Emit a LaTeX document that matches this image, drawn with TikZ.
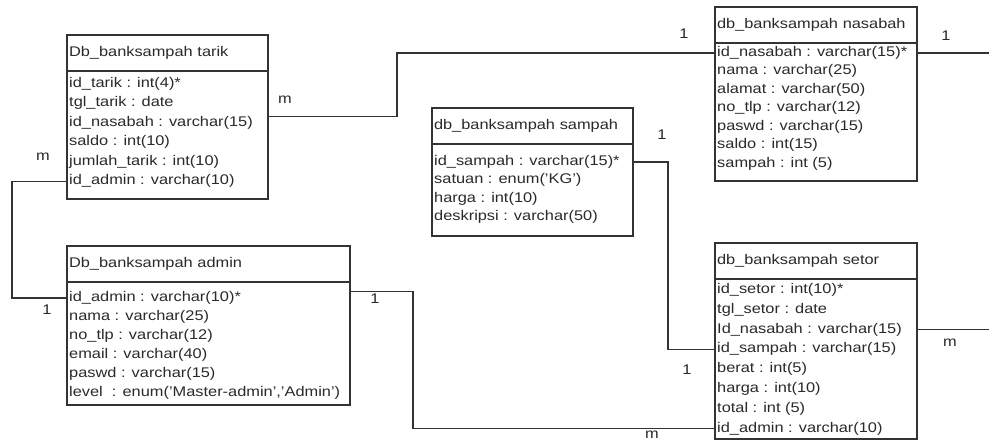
\documentclass[tikz,border=0pt]{standalone}
\usepackage{fontspec}
\setmainfont[FakeStretch=1.17]{Liberation Sans}
\usetikzlibrary{positioning}
\definecolor{garis}{HTML}{333333}
\definecolor{tulisan}{HTML}{2A2A2A}
\tikzset{
  judul/.style={draw=garis,line width=1.3pt,fill=white,anchor=north west,outer sep=0pt,
    minimum height=36pt,inner xsep=2pt,text width=#1pt,align=left,text=tulisan,
    font=\fontsize{14}{16}\selectfont},
  isi/.style={draw=garis,line width=1.3pt,fill=white,outer sep=0pt,inner sep=0pt},
  baris/.style={anchor=west,inner sep=0pt,text height=10pt,text depth=3pt,text=tulisan,
    font=\fontsize{14}{16}\selectfont},
  kardinal/.style={inner sep=0pt,text=tulisan,font=\fontsize{14}{16}\selectfont},
  hubung/.style={draw=garis,line width=1.3pt}
}
\begin{document}
\begin{tikzpicture}[x=1pt,y=-1pt]
\useasboundingbox[fill=white] (0,0) rectangle (989,441);

% tabel tarik
\node[judul=197] (tarikH) at (67,35) {Db\_banksampah tarik};
\node[isi,minimum width=201pt,minimum height=128pt,below=0pt of tarikH] (tarik) {};
\foreach \t [count=\i] in {id\_tarik : int(4)*, tgl\_tarik : date, id\_nasabah : varchar(15),
  saldo : int(10), jumlah\_tarik : int(10), id\_admin : varchar(10)}
  \node[baris] (tarik\i) at ([xshift=2pt,yshift=-13pt-(\i-1)*19.5pt]tarik.north west) {\t};

% tabel admin
\node[judul=279] (adminH) at (67,246) {Db\_banksampah admin};
\node[isi,minimum width=283pt,minimum height=123pt,below=0pt of adminH] (admin) {};
\foreach \t [count=\i] in {id\_admin : varchar(10)*, nama : varchar(25), no\_tlp : varchar(12),
  email : varchar(40), paswd : varchar(15), {level\ \ : enum('Master-admin','Admin')}}
  \node[baris] (admin\i) at ([xshift=2pt,yshift=-16pt-(\i-1)*19pt]admin.north west) {\t};

% tabel nasabah
\node[judul=198] (nasabahH) at (715,7) {db\_banksampah nasabah};
\node[isi,minimum width=202pt,minimum height=138pt,below=0pt of nasabahH] (nasabah) {};
\foreach \t [count=\i] in {id\_nasabah : varchar(15)*, nama : varchar(25), alamat : varchar(50),
  no\_tlp : varchar(12), paswd : varchar(15), saldo : int(15), sampah : int (5)}
  \node[baris] (nasabah\i) at ([xshift=2pt,yshift=-10pt-(\i-1)*18.5pt]nasabah.north west) {\t};

% tabel sampah
\node[judul=197] (sampahH) at (432,108) {db\_banksampah sampah};
\node[isi,minimum width=201pt,minimum height=92pt,below=0pt of sampahH] (sampah) {};
\foreach \t [count=\i] in {id\_sampah : varchar(15)*, satuan : enum('KG'), harga : int(10),
  deskripsi : varchar(50)}
  \node[baris] (sampah\i) at ([xshift=2pt,yshift=-18pt-(\i-1)*18.3pt]sampah.north west) {\t};

% tabel setor
\node[judul=198] (setorH) at (715,243) {db\_banksampah setor};
\node[isi,minimum width=202pt,minimum height=160pt,below=0pt of setorH] (setor) {};
\foreach \t [count=\i] in {id\_setor : int(10)*, tgl\_setor : date, Id\_nasabah : varchar(15),
  id\_sampah : varchar(15), berat : int(5), harga : int(10), total : int (5), id\_admin : varchar(10)}
  \node[baris] (setor\i) at ([xshift=2pt,yshift=-11pt-(\i-1)*19.8pt]setor.north west) {\t};

% relasi
\coordinate (tekuk1) at (397,53);
\coordinate (tekuk2) at (12,240);
\coordinate (tekuk3) at (413,350);
\coordinate (tekuk4) at (668,250);
\coordinate (ujung) at (989,0);
\draw[hubung] (tarik.east |- tarik3.north) -| (tekuk1) -- (nasabah.west |- nasabah1);
\draw[hubung] (tarik.west |- tarik6) -| (tekuk2) |- (admin.west |- admin1);
\draw[hubung] (admin.east |- admin1.north) -| (tekuk3) |- (setor.west |- setor8);
\draw[hubung] (sampah.east |- sampah1) -| (tekuk4) |- (setor.west |- setor4);
\draw[hubung] (nasabah.east |- nasabah1) -- (ujung |- nasabah1);
\draw[hubung] (setor.east |- setor3) -- (ujung |- setor3);

% kardinalitas
\node[kardinal] (k1) at (285,100) {m};
\node[kardinal] (k2) at (684,34) {1};
\node[kardinal] (k3) at (43,157) {m};
\node[kardinal] (k4) at (47,310) {1};
\node[kardinal] (k5) at (375,299) {1};
\node[kardinal] (k6) at (652,435) {m};
\node[kardinal] (k7) at (662,135) {1};
\node[kardinal] (k8) at (687,370) {1};
\node[kardinal] (k9) at (946,36) {1};
\node[kardinal] (k10) at (950,343) {m};
\end{tikzpicture}
\end{document}
